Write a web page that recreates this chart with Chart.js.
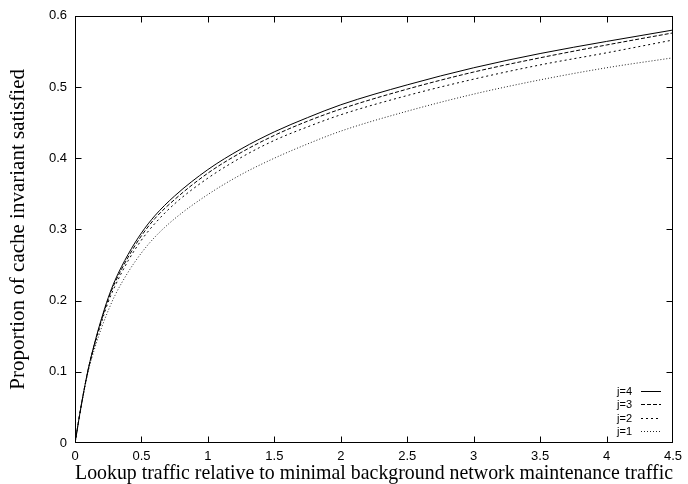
<!DOCTYPE html>
<html>
<head>
<meta charset="utf-8">
<script src="https://cdn.jsdelivr.net/npm/chart.js@4.4.1/dist/chart.umd.min.js"></script>
<style>
  html, body { margin: 0; padding: 0; background: #fff; }
  #wrap { width: 688px; height: 484px; }
</style>
</head>
<body>
<div id="wrap"><canvas id="chart" width="688" height="484"></canvas></div>
<script>
// lookup traffic ratio (x) and fraction of cache invariant satisfied per j
const xs = [0, 0.05, 0.1, 0.15, 0.2, 0.25, 0.3, 0.4, 0.5, 0.6, 0.75, 1, 1.25, 1.5, 1.75, 2, 2.5, 3, 3.5, 4, 4.5];
const j4 = [0, 0.056, 0.104, 0.142, 0.175, 0.204, 0.228, 0.265, 0.295, 0.319, 0.347, 0.384, 0.413, 0.437, 0.457, 0.475, 0.503, 0.527, 0.547, 0.564, 0.580];
const j3 = [0, 0.056, 0.104, 0.141, 0.173, 0.202, 0.225, 0.261, 0.291, 0.315, 0.342, 0.379, 0.408, 0.432, 0.452, 0.469, 0.497, 0.521, 0.541, 0.559, 0.576];
const j2 = [0, 0.056, 0.103, 0.139, 0.170, 0.198, 0.220, 0.256, 0.285, 0.308, 0.336, 0.372, 0.401, 0.425, 0.444, 0.461, 0.488, 0.511, 0.531, 0.548, 0.566];
const j1 = [0, 0.055, 0.101, 0.134, 0.162, 0.186, 0.207, 0.240, 0.267, 0.289, 0.315, 0.349, 0.377, 0.400, 0.420, 0.438, 0.466, 0.490, 0.510, 0.527, 0.541];

const seriesLabels = ['j=4', 'j=3', 'j=2', 'j=1'];
const xTicks = [0, 0.5, 1, 1.5, 2, 2.5, 3, 3.5, 4, 4.5];
const yTicks = [0, 0.1, 0.2, 0.3, 0.4, 0.5, 0.6];

const toPoints = ys => xs.map((x, i) => ({ x: x, y: ys[i] }));

const dashes = [[], [4, 2], [2, 3], [1, 2]];
const colors = ['#000', '#000', '#000', '#222'];

// gnuplot-like frame: box border, inward ticks on all sides, key in the lower right
const framePlugin = {
  id: 'frame',
  afterDatasetsDraw(chart) {
    const ctx = chart.ctx;
    const a = chart.chartArea;
    const sx = chart.scales.x, sy = chart.scales.y;
    const L = Math.round(a.left) + 0.5, R = Math.round(a.right) - 0.5;
    const T = Math.round(a.top) + 0.5, B = Math.round(a.bottom) - 0.5;
    const clamp = (v, lo, hi) => Math.min(Math.max(v, lo), hi);
    const tl = 6;
    ctx.save();
    ctx.strokeStyle = '#000';
    ctx.lineWidth = 1;
    ctx.setLineDash([]);
    ctx.strokeRect(L, T, R - L, B - T);
    ctx.beginPath();
    xTicks.forEach(v => {
      const px = clamp(Math.round(sx.getPixelForValue(v)) + 0.5, L, R);
      ctx.moveTo(px, B); ctx.lineTo(px, B - tl);
      ctx.moveTo(px, T); ctx.lineTo(px, T + tl);
    });
    yTicks.forEach(v => {
      const py = clamp(Math.round(sy.getPixelForValue(v)) + 0.5, T, B);
      ctx.moveTo(L, py); ctx.lineTo(L + tl, py);
      ctx.moveTo(R, py); ctx.lineTo(R - tl, py);
    });
    ctx.stroke();

    // key
    ctx.font = '11px "Liberation Sans", Arial, sans-serif';
    ctx.textAlign = 'right';
    ctx.textBaseline = 'middle';
    ctx.fillStyle = '#000';
    const keyTop = 390.5, rowH = 13.5;
    chart.data.datasets.forEach((ds, i) => {
      const y = Math.round(keyTop + i * rowH) + 0.5;
      ctx.fillText(ds.label, 632, y);
      ctx.strokeStyle = ds.borderColor;
      ctx.setLineDash(ds.borderDash);
      ctx.beginPath();
      ctx.moveTo(641, y); ctx.lineTo(661, y);
      ctx.stroke();
    });
    ctx.restore();
  }
};

new Chart(document.getElementById('chart'), {
  type: 'line',
  data: {
    datasets: [j4, j3, j2, j1].map((ys, i) => ({
      label: seriesLabels[i],
      data: toPoints(ys),
      borderColor: colors[i],
      borderDash: dashes[i],
      borderWidth: 1,
      pointRadius: 0,
      fill: false,
      cubicInterpolationMode: 'monotone'
    }))
  },
  options: {
    responsive: false,
    animation: false,
    layout: { padding: { left: 0, right: 11, top: 15, bottom: 0 } },
    plugins: { legend: { display: false }, tooltip: { enabled: false } },
    scales: {
      x: {
        type: 'linear',
        min: 0, max: 4.5,
        afterBuildTicks: s => { s.ticks = xTicks.map(v => ({ value: v })); },
        afterFit: s => { s.height = 41; },
        grid: { display: false, drawTicks: false },
        border: { display: false },
        ticks: {
          padding: 6,
          color: '#000',
          maxRotation: 0,
          font: { family: '"Liberation Sans", Arial, sans-serif', size: 13 },
          callback: v => String(+v.toFixed(1))
        },
        title: {
          display: true,
          text: 'Lookup traffic relative to minimal background network maintenance traffic',
          color: '#000',
          padding: { top: 0, bottom: 0 },
          font: { family: '"Liberation Serif", "Times New Roman", serif', size: 21, lineHeight: 1 }
        }
      },
      y: {
        type: 'linear',
        min: 0, max: 0.6,
        afterBuildTicks: s => { s.ticks = yTicks.map(v => ({ value: v })); },
        afterFit: s => { s.width = 75; },
        grid: { display: false, drawTicks: false },
        border: { display: false },
        ticks: {
          padding: 8,
          color: '#000',
          font: { family: '"Liberation Sans", Arial, sans-serif', size: 13 },
          callback: v => String(+v.toFixed(1))
        },
        title: {
          display: true,
          text: 'Proportion of cache invariant satisfied',
          color: '#000',
          padding: { top: 8, bottom: 0 },
          font: { family: '"Liberation Serif", "Times New Roman", serif', size: 21, lineHeight: 1 }
        }
      }
    }
  },
  plugins: [framePlugin]
});
</script>
</body>
</html>
